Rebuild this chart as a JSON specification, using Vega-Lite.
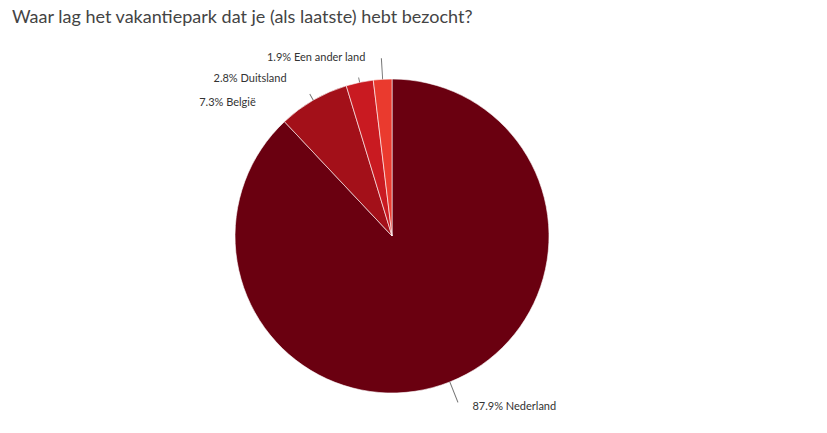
{
  "$schema": "https://vega.github.io/schema/vega-lite/v6.json",
  "width": 784,
  "height": 394,
  "autosize": "none",
  "padding": {"left": 0, "top": 39, "right": 43, "bottom": 0},
  "background": "white",
  "title": {
    "text": "Waar lag het vakantiepark dat je (als laatste) hebt bezocht?",
    "anchor": "start",
    "frame": "group",
    "font": "Lato",
    "fontSize": 18,
    "fontWeight": "normal",
    "color": "#444444",
    "offset": 12,
    "dx": 12
  },
  "data": {
    "values": [
      {"land": "Nederland", "pct": 87.9, "label": "87.9% Nederland"},
      {"land": "België", "pct": 7.3, "label": "7.3% België"},
      {"land": "Duitsland", "pct": 2.8, "label": "2.8% Duitsland"},
      {"land": "Een ander land", "pct": 1.9, "label": "1.9% Een ander land"}
    ]
  },
  "encoding": {
    "theta": {"field": "pct", "type": "quantitative", "stack": true, "scale": {"domain": [0, 99.9]}},
    "order": {"field": "pct", "sort": "descending"}
  },
  "layer": [
    {
      "mark": {"type": "arc", "outerRadius": 157, "stroke": "#ffffff", "strokeWidth": 0.6},
      "encoding": {
        "color": {
          "field": "land",
          "type": "nominal",
          "legend": null,
          "scale": {
            "domain": ["Nederland", "België", "Duitsland", "Een ander land"],
            "range": ["#6a0010", "#a31019", "#c91a21", "#ea3a2e"]
          }
        }
      }
    },
    {
      "transform": [
        {"stack": "pct", "groupby": [], "sort": [{"field": "pct", "order": "descending"}], "as": ["t0", "t1"]},
        {"filter": "datum.land === 'Nederland'"}
      ],
      "mark": {"type": "arc", "outerRadius": 179, "innerRadius": 157, "fill": "#777777", "thetaOffset": 2.7612, "theta2Offset": -2.7612},
      "encoding": {
        "theta": {"field": "t0", "type": "quantitative", "stack": null, "scale": {"domain": [0, 99.9]}},
        "theta2": {"field": "t1"},
        "order": null
      }
    },
    {
      "transform": [
        {"stack": "pct", "groupby": [], "sort": [{"field": "pct", "order": "descending"}], "as": ["t0", "t1"]},
        {"filter": "datum.land === 'België'"}
      ],
      "mark": {"type": "arc", "outerRadius": 164, "innerRadius": 157, "fill": "#777777", "thetaOffset": 0.2266, "theta2Offset": -0.2266},
      "encoding": {
        "theta": {"field": "t0", "type": "quantitative", "stack": null, "scale": {"domain": [0, 99.9]}},
        "theta2": {"field": "t1"},
        "order": null
      }
    },
    {
      "transform": [
        {"stack": "pct", "groupby": [], "sort": [{"field": "pct", "order": "descending"}], "as": ["t0", "t1"]},
        {"filter": "datum.land === 'Duitsland'"}
      ],
      "mark": {"type": "arc", "outerRadius": 162, "innerRadius": 157, "fill": "#777777", "thetaOffset": 0.0851, "theta2Offset": -0.0851},
      "encoding": {
        "theta": {"field": "t0", "type": "quantitative", "stack": null, "scale": {"domain": [0, 99.9]}},
        "theta2": {"field": "t1"},
        "order": null
      }
    },
    {
      "transform": [
        {"stack": "pct", "groupby": [], "sort": [{"field": "pct", "order": "descending"}], "as": ["t0", "t1"]},
        {"filter": "datum.land === 'Een ander land'"}
      ],
      "mark": {"type": "arc", "outerRadius": 178, "innerRadius": 157, "fill": "#777777", "thetaOffset": 0.0568, "theta2Offset": -0.0568},
      "encoding": {
        "theta": {"field": "t0", "type": "quantitative", "stack": null, "scale": {"domain": [0, 99.9]}},
        "theta2": {"field": "t1"},
        "order": null
      }
    },
    {
      "mark": {"type": "text", "radius": 183, "align": "left", "baseline": "middle", "dx": 13, "dy": 1, "font": "Lato", "fontSize": 11, "color": "#333333"},
      "encoding": {
        "text": {"condition": {"test": "datum.land === 'Nederland'", "field": "label"}, "value": ""}
      }
    },
    {
      "mark": {"type": "text", "radius": 156, "align": "right", "baseline": "middle", "dx": -58, "dy": 2, "font": "Lato", "fontSize": 11, "color": "#333333"},
      "encoding": {
        "text": {"condition": {"test": "datum.land === 'België'", "field": "label"}, "value": ""}
      }
    },
    {
      "mark": {"type": "text", "radius": 162, "align": "right", "baseline": "middle", "dx": -72, "dy": 2, "font": "Lato", "fontSize": 11, "color": "#333333"},
      "encoding": {
        "text": {"condition": {"test": "datum.land === 'Duitsland'", "field": "label"}, "value": ""}
      }
    },
    {
      "mark": {"type": "text", "radius": 179, "align": "right", "baseline": "middle", "dx": -16, "dy": 1, "font": "Lato", "fontSize": 11, "color": "#333333"},
      "encoding": {
        "text": {"condition": {"test": "datum.land === 'Een ander land'", "field": "label"}, "value": ""}
      }
    }
  ]
}
